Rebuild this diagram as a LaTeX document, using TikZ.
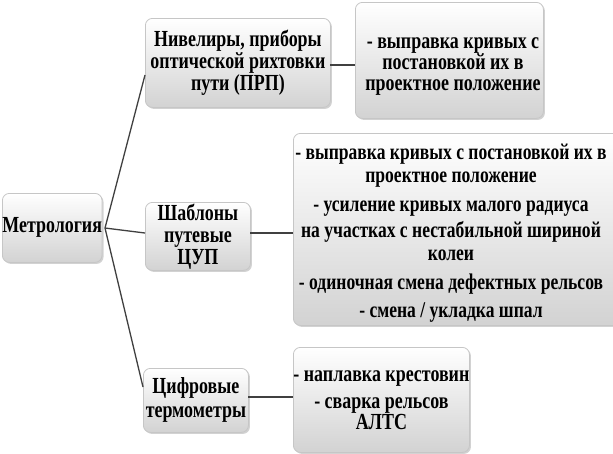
\documentclass[tikz,border=0pt]{standalone}
\usepackage{fontspec}
\setmainfont{Liberation Serif}[FakeStretch=0.78]
\usetikzlibrary{shadows}
\tikzset{
  box/.style={draw=gray!45, line width=0.8pt, rounded corners=7pt,
    top color=white, bottom color=gray!35,
    drop shadow={shadow xshift=1.5pt, shadow yshift=-1.5pt, opacity=0.35},
    anchor=north west, inner sep=0pt, align=center,
    font=\bfseries\fontsize{23}{22}\selectfont},
  txt/.style={inner sep=0pt, align=center, font=\bfseries\fontsize{23}{23}\selectfont},
  link/.style={draw=black!75, line width=1.3pt},
}
\begin{document}
\begin{tikzpicture}[x=1pt,y=-1pt]
\clip (0,0) rectangle (613,453);
\fill[white] (0,0) rectangle (613,453);
% boxes
\node[box, minimum width=99pt, minimum height=69pt] (M) at (2,193) {Метрология};
\node[box, minimum width=185pt, minimum height=89pt] (A) at (145,18) {Нивелиры, приборы\\ оптической рихтовки\\ пути (ПРП)};
\node[box, minimum width=188pt, minimum height=116pt] (A2) at (355,2) {};
\node[txt, font=\bfseries\fontsize{23}{21}\selectfont] (A2t) at (453,67) {- выправка кривых с\\ постановкой их в\\ проектное положение};
\node[box, minimum width=105pt, minimum height=68pt] (B) at (145,202) {Шаблоны\\ путевые\\ ЦУП};
\node[box, minimum width=330pt, minimum height=192pt] (B2) at (293,133) {};
\node[txt, font=\bfseries\fontsize{22.5}{23}\selectfont] (B2t) at (451,233) {- выправка кривых с постановкой их в\\ проектное положение\\[6pt] - усиление кривых малого радиуса\\[3pt] на участках с нестабильной шириной\\ колеи\\[6pt] - одиночная смена дефектных рельсов\\[5pt] - смена / укладка шпал};
\node[box, minimum width=105pt, minimum height=64pt, font=\bfseries\fontsize{23}{24}\selectfont] (C) at (143,368) {Цифровые\\ термометры};
\node[box, minimum width=174pt, minimum height=105pt, font=\bfseries\fontsize{23}{20}\selectfont] (C2) at (293,347) {- наплавка крестовин\\[7pt] - сварка рельсов\\ АЛТС};
% connector points
\coordinate (o) at (105,228);
\coordinate (a) at (145,75);
\coordinate (b) at (145,233);
\coordinate (c) at (143,387);
\coordinate (ar) at (330,65);
\coordinate (al) at (355,65);
\coordinate (br) at (250,233);
\coordinate (bl) at (293,233);
\coordinate (cr) at (248,397);
\coordinate (cl) at (293,397);
\draw[link] (a) -- (o) -- (c);
\draw[link] (o) -- (b);
\draw[link] (ar) -- (al);
\draw[link] (br) -- (bl);
\draw[link] (cr) -- (cl);
\end{tikzpicture}
\end{document}
